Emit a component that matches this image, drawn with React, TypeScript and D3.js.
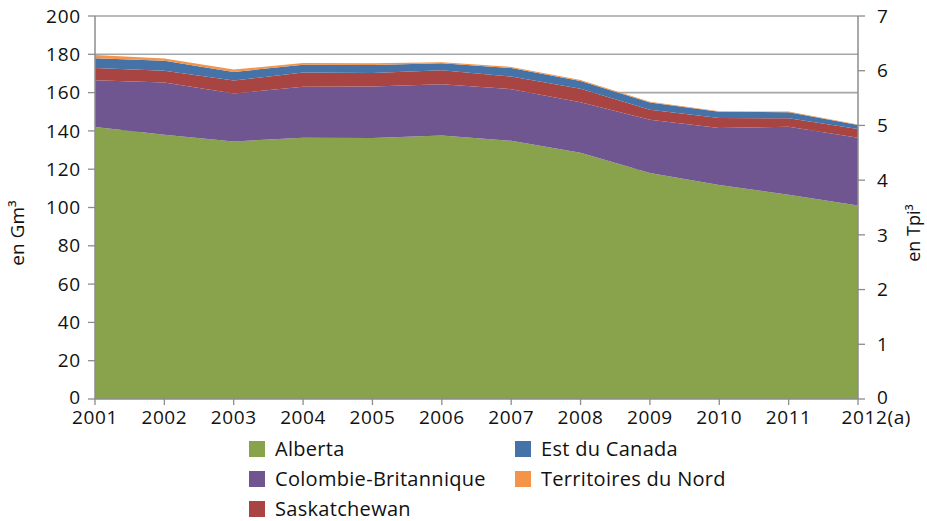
import React from "react";
import * as d3 from "d3";

const years = ["2001", "2002", "2003", "2004", "2005", "2006", "2007", "2008", "2009", "2010", "2011", "2012(a)"];
const alberta = [142, 138, 134.5, 136.4, 136.3, 137.6, 134.8, 128.6, 118, 111.8, 106.7, 101];
const colombie = [24.5, 27.3, 25, 26.6, 26.9, 26.8, 27, 26.4, 27.8, 29.7, 35.5, 35.4];
const saskatchewan = [6.3, 6.1, 6.8, 7.5, 7.1, 7.3, 6.6, 7, 5.2, 5.2, 4.4, 4.6];
const estCanada = [5.2, 5.2, 4.5, 4, 4.1, 3.6, 4.4, 4, 3.8, 3.3, 3.2, 2.1];
const territoires = [1.7, 1.2, 1.2, 1, 0.9, 0.5, 0.6, 0.6, 0.4, 0.3, 0.3, 0.3];

const leftTicks = [0, 20, 40, 60, 80, 100, 120, 140, 160, 180, 200];
const rightTicks = [0, 1, 2, 3, 4, 5, 6, 7];

const seriesNames = ["Alberta", "Colombie-Britannique", "Saskatchewan", "Est du Canada", "Territoires du Nord"];
const seriesColors = ["#89A34D", "#6F5690", "#A84543", "#4573A7", "#F3944A"];
const seriesValues = [alberta, colombie, saskatchewan, estCanada, territoires];

const W = 927;
const H = 521;
const X0 = 95;
const X1 = 858;
const Y0 = 399;
const Y1 = 16;
const FONT = "'Open Sans', 'Noto Sans', sans-serif";
const TXT = "#111";
const AXIS = "#8c8c8c";

export default function App() {
  const x = d3.scaleLinear().domain([0, years.length - 1]).range([X0, X1]);
  const y = d3.scaleLinear().domain([0, 200]).range([Y0, Y1]);
  const yR = d3.scaleLinear().domain([0, 7]).range([Y0, Y1]);

  const rows = years.map((_, i) => {
    const r: Record<string, number> = { i };
    seriesNames.forEach((n, k) => (r[n] = seriesValues[k][i]));
    return r;
  });
  const stacked = d3.stack<Record<string, number>>().keys(seriesNames)(rows);
  const area = d3
    .area<any>()
    .x((d) => x(d.data.i))
    .y0((d) => y(d[0]))
    .y1((d) => y(d[1]));

  const legendItems = [
    { k: 0, x: 249, y: 449 },
    { k: 1, x: 249, y: 479 },
    { k: 2, x: 249, y: 509 },
    { k: 3, x: 515, y: 449 },
    { k: 4, x: 515, y: 479 },
  ];

  return (
    <svg width={W} height={H} style={{ position: "absolute", left: 0, top: 0, background: "#fff" }}>
      {leftTicks.filter((t) => t > 0).map((t) => (
        <line key={"g" + t} x1={X0} x2={X1} y1={y(t)} y2={y(t)} stroke="#a6a6a6" strokeWidth={1.6} />
      ))}
      {stacked.map((s, k) => (
        <path key={s.key} d={area(s as any) || ""} fill={seriesColors[k]} />
      ))}
      <line x1={X0} x2={X0} y1={Y1} y2={Y0} stroke={AXIS} strokeWidth={1.5} />
      <line x1={X1} x2={X1} y1={Y1} y2={Y0} stroke={AXIS} strokeWidth={1.5} />
      <line x1={X0} x2={X1} y1={Y0} y2={Y0} stroke={AXIS} strokeWidth={1.5} />
      {leftTicks.map((t) => (
        <g key={"l" + t}>
          <line x1={X0 - 7} x2={X0} y1={y(t)} y2={y(t)} stroke={AXIS} strokeWidth={1.3} />
          <text x={81} y={y(t) - (t === 0 ? 2 : 0)} dy="0.35em" textAnchor="end" fontFamily={FONT} fontSize={19} fill={TXT} letterSpacing={0.8}>
            {t}
          </text>
        </g>
      ))}
      {rightTicks.map((t) => (
        <g key={"r" + t}>
          <line x1={X1} x2={X1 + 7} y1={yR(t)} y2={yR(t)} stroke={AXIS} strokeWidth={1.3} />
          <text x={877} y={yR(t) - (t === 0 ? 2 : 0)} dy="0.35em" textAnchor="start" fontFamily={FONT} fontSize={19} fill={TXT}>
            {t}
          </text>
        </g>
      ))}
      {years.map((yr, i) => (
        <g key={yr}>
          <line x1={x(i)} x2={x(i)} y1={Y0} y2={Y0 + 6} stroke={AXIS} strokeWidth={1.3} />
          <text
            x={i === years.length - 1 ? 911 : x(i)}
            y={424}
            textAnchor={i === years.length - 1 ? "end" : "middle"}
            fontFamily={FONT}
            fontSize={19}
            fill={TXT}
            letterSpacing={0.6}
          >
            {yr}
          </text>
        </g>
      ))}
      <text transform="translate(24,233) rotate(-90)" textAnchor="middle" fontFamily={FONT} fontSize={19} fill={TXT}>
        en Gm³
      </text>
      <text transform="translate(920,233) rotate(-90)" textAnchor="middle" fontFamily={FONT} fontSize={18} fill={TXT}>
        en Tpi³
      </text>
      {legendItems.map((it) => (
        <g key={"lg" + it.k}>
          <rect x={it.x} y={it.y - 8} width={16} height={16} fill={seriesColors[it.k]} />
          <text x={it.x + 26} y={it.y} dy="0.35em" fontFamily={FONT} fontSize={20} fill={TXT} letterSpacing={0.3}>
            {seriesNames[it.k]}
          </text>
        </g>
      ))}
    </svg>
  );
}
